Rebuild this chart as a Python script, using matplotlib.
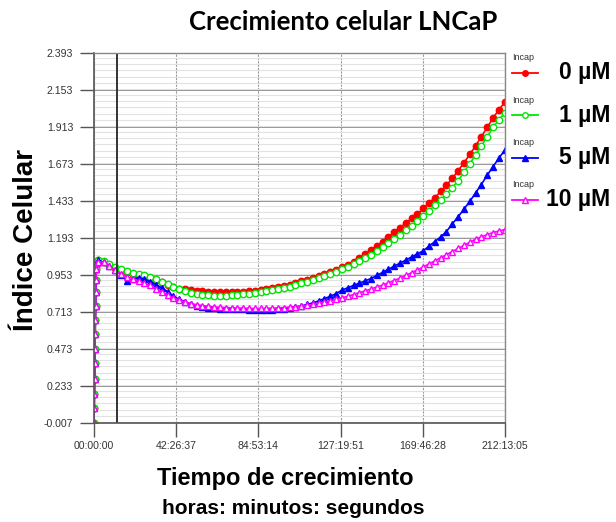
import numpy as np
import matplotlib
matplotlib.use("Agg")
import matplotlib.pyplot as plt
from matplotlib.lines import Line2D
from matplotlib.ticker import MultipleLocator

# tiempo en horas (subida inicial + medidas cada 3 h)
tiempo = [0, 0.1, 0.2, 0.3, 0.4, 0.5, 0.6, 0.7, 0.8, 0.9, 1.0, 1.2, 1.5,
          2, 5, 8, 11, 14, 17, 20, 23, 26, 29, 32, 35, 38, 41, 44, 47, 50,
          53, 56, 59, 62, 65, 68, 71, 74, 77, 80, 83, 86, 89, 92, 95, 98,
          101, 104, 107, 110, 113, 116, 119, 122, 125, 128, 131, 134, 137,
          140, 143, 146, 149, 152, 155, 158, 161, 164, 167, 170, 173, 176,
          179, 182, 185, 188, 191, 194, 197, 200, 203, 206, 209, 212.2]

subida = [-0.007, 0.09, 0.18, 0.28, 0.38, 0.47, 0.57, 0.66, 0.75, 0.84, 0.92, 0.99, 1.03]

lncap_0 = subida + [
    1.05, 1.04, 1.02, 1.00, 0.985, 0.97, 0.96, 0.955, 0.945, 0.935, 0.92, 0.905,
    0.89, 0.875, 0.865, 0.86, 0.855, 0.85, 0.848, 0.845, 0.842, 0.84, 0.842, 0.84,
    0.843, 0.845, 0.848, 0.852, 0.858, 0.862, 0.868, 0.875, 0.882, 0.89, 0.90,
    0.912, 0.922, 0.935, 0.945, 0.958, 0.972, 0.988, 1.003, 1.02, 1.04, 1.065,
    1.09, 1.115, 1.14, 1.17, 1.20, 1.23, 1.26, 1.29, 1.32, 1.35, 1.385, 1.42,
    1.455, 1.495, 1.535, 1.58, 1.63, 1.68, 1.735, 1.79, 1.85, 1.91, 1.97, 2.025,
    2.075]

lncap_1 = subida + [
    1.05, 1.045, 1.025, 1.005, 0.99, 0.978, 0.968, 0.96, 0.95, 0.94, 0.925, 0.91,
    0.893, 0.875, 0.86, 0.848, 0.838, 0.83, 0.825, 0.822, 0.82, 0.818, 0.82,
    0.822, 0.825, 0.828, 0.832, 0.836, 0.842, 0.848, 0.855, 0.862, 0.87, 0.878,
    0.888, 0.898, 0.91, 0.922, 0.934, 0.946, 0.96, 0.974, 0.99, 1.005, 1.023,
    1.043, 1.063, 1.085, 1.108, 1.133, 1.158, 1.185, 1.213, 1.242, 1.272, 1.303,
    1.336, 1.37, 1.405, 1.442, 1.48, 1.52, 1.565, 1.62, 1.675, 1.73, 1.79, 1.85,
    1.91, 1.96, 2.005]

lncap_5 = subida + [
    1.05, 1.035, 1.01, 0.985, 0.955, 0.915, 0.925, 0.935, 0.925, 0.91, 0.89,
    0.87, 0.845, 0.815, 0.795, 0.78, 0.765, 0.755, 0.748, 0.742, 0.738, 0.735,
    0.733, 0.732, 0.73, 0.73, 0.728, 0.726, 0.725, 0.726, 0.728, 0.73, 0.735,
    0.74, 0.745, 0.752, 0.762, 0.772, 0.785, 0.80, 0.815, 0.832, 0.855, 0.87,
    0.885, 0.90, 0.915, 0.93, 0.95, 0.97, 0.99, 1.01, 1.03, 1.05, 1.07, 1.09,
    1.11, 1.14, 1.17, 1.20, 1.235, 1.285, 1.33, 1.38, 1.43, 1.485, 1.54, 1.60,
    1.655, 1.71, 1.765]

lncap_10 = subida + [
    1.04, 1.035, 1.01, 0.985, 0.96, 0.94, 0.93, 0.915, 0.90, 0.885, 0.865, 0.845,
    0.825, 0.805, 0.79, 0.778, 0.768, 0.76, 0.755, 0.75, 0.746, 0.744, 0.742,
    0.74, 0.739, 0.738, 0.737, 0.736, 0.736, 0.737, 0.738, 0.74, 0.742, 0.745,
    0.748, 0.752, 0.757, 0.763, 0.77, 0.778, 0.786, 0.795, 0.805, 0.815, 0.826,
    0.838, 0.85, 0.862, 0.875, 0.888, 0.902, 0.917, 0.933, 0.95, 0.968, 0.986,
    1.005, 1.025, 1.045, 1.065, 1.085, 1.105, 1.125, 1.145, 1.165, 1.185, 1.20,
    1.215, 1.228, 1.238, 1.248]

etiquetas_x = ["00:00:00", "42:26:37", "84:53:14", "127:19:51", "169:46:28", "212:13:05"]
pos_x = [int(h) + int(m) / 60 + int(s) / 3600 for h, m, s in (e.split(":") for e in etiquetas_x)]
ticks_y = [-0.007, 0.233, 0.473, 0.713, 0.953, 1.193, 1.433, 1.673, 1.913, 2.153, 2.393]
marca_tiempo = 11.8

series = [("0 µM", lncap_0, "#ff0000", "o", True),
          ("1 µM", lncap_1, "#00e600", "o", False),
          ("5 µM", lncap_5, "#0000ff", "^", True),
          ("10 µM", lncap_10, "#ff00ff", "^", False)]

fig = plt.figure(figsize=(6.16, 5.22), dpi=100)
ax = fig.add_axes([94 / 616, 1 - 423 / 522, 411 / 616, 370 / 522])

for nombre, y, c, m, lleno in series:
    ax.plot(tiempo, y, color=c, lw=1.2, marker=m, markersize=4.6,
            markerfacecolor=c if lleno else "white", markeredgecolor=c,
            markeredgewidth=1)

ax.set_xlim(0, pos_x[-1])
ax.set_ylim(ticks_y[0], ticks_y[-1])
ax.set_xticks(pos_x)
ax.set_xticklabels(etiquetas_x)
ax.set_yticks(ticks_y)
ax.set_yticklabels(["%.3f" % v for v in ticks_y])
ax.yaxis.set_minor_locator(MultipleLocator(0.04))
ax.tick_params(axis="both", which="major", length=10, width=1, color="#555555",
               labelsize=7.6, labelcolor="#333333", direction="out")
ax.tick_params(axis="y", pad=5)
ax.tick_params(axis="x", pad=3)
ax.tick_params(axis="y", which="minor", length=0)
for lab in ax.get_xticklabels() + ax.get_yticklabels():
    lab.set_fontfamily("Liberation Sans")

ax.grid(axis="y", which="minor", color="#e2e2e2", lw=0.8)
ax.grid(axis="y", which="major", color="#777777", lw=1.1)
ax.grid(axis="x", which="major", color="#999999", lw=0.8, ls=(0, (2, 1)))
ax.axvline(marca_tiempo, color="#333333", lw=1.4)
ax.set_axisbelow(True)
for lado in ["left", "bottom"]:
    ax.spines[lado].set_color("#555555")
    ax.spines[lado].set_linewidth(1.2)
for lado in ["right", "top"]:
    ax.spines[lado].set_color("#888888")
    ax.spines[lado].set_linewidth(1)

# leyenda manual a la derecha
for i, (nombre, y, c, m, lleno) in enumerate(series):
    yl = 1 - (73 + 42.3 * i) / 522
    fig.text(512 / 616, yl + 15 / 522, "Incap", fontsize=6.5, color="#333333",
             family="Liberation Sans", va="center")
    fig.add_artist(Line2D([512 / 616, 538 / 616], [yl, yl], color=c, lw=1.3,
                          transform=fig.transFigure))
    fig.add_artist(Line2D([525 / 616], [yl], color=c, marker=m, markersize=4,
                          markerfacecolor=c if lleno else "white", markeredgecolor=c,
                          transform=fig.transFigure))
    fig.text(610 / 616, yl, nombre, fontsize=16.5, fontweight="bold",
             family="Liberation Sans", ha="right", va="center")

fig.text(343 / 616, 1 - 22 / 522, "Crecimiento celular LNCaP", fontsize=18.5,
         fontweight="bold", family="Lato", ha="center", va="center")
fig.text(285 / 616, 1 - 478 / 522, "Tiempo de crecimiento", fontsize=17,
         fontweight="bold", family="Liberation Sans", ha="center", va="center")
fig.text(293 / 616, 1 - 508 / 522, "horas: minutos: segundos", fontsize=15,
         fontweight="bold", family="Liberation Sans", ha="center", va="center")
fig.text(26 / 616, 1 - 240 / 522, "Índice Celular", fontsize=20, rotation=90,
         fontweight="bold", family="Liberation Sans", ha="center", va="center")

fig.savefig("out.png", dpi=100)
